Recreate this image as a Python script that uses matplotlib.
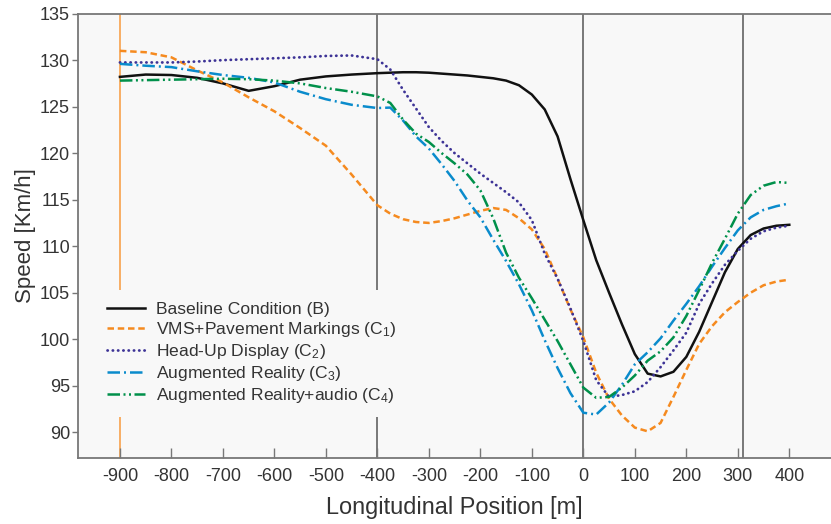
import matplotlib
matplotlib.use("Agg")
import matplotlib.pyplot as plt

plt.rcParams['font.family'] = ['Liberation Sans', 'DejaVu Sans']
plt.rcParams['mathtext.fontset'] = 'custom'
plt.rcParams['mathtext.rm'] = 'Liberation Sans'
plt.rcParams['mathtext.it'] = 'Liberation Sans'
plt.rcParams['axes.unicode_minus'] = False

position = [-900, -850, -800, -750, -700, -650, -600, -550, -500, -450,
            -400, -375, -350, -325, -300, -275, -250, -225, -200, -175,
            -150, -125, -100, -75, -50, -25, 0, 25, 50, 75,
            100, 125, 150, 175, 200, 225, 250, 275, 300, 325,
            350, 375, 400]

baseline = [128.2, 128.45, 128.4, 128.1, 127.5, 126.7, 127.2, 127.9, 128.25, 128.45,
            128.6, 128.65, 128.7, 128.7, 128.65, 128.55, 128.45, 128.35, 128.2, 128.05,
            127.8, 127.3, 126.3, 124.7, 121.8, 117.2, 112.8, 108.5, 105.0, 101.6,
            98.4, 96.3, 96.0, 96.5, 98.1, 100.8, 104.0, 107.2, 109.7, 111.2,
            111.9, 112.2, 112.3]

vms = [131.0, 130.85, 130.3, 128.9, 127.6, 126.0, 124.5, 122.7, 120.8, 117.7,
       114.4, 113.5, 112.9, 112.6, 112.5, 112.7, 113.0, 113.4, 113.8, 114.1,
       113.9, 113.0, 111.8, 109.7, 106.5, 103.2, 100.2, 96.4, 93.6, 91.8,
       90.5, 90.1, 91.0, 93.8, 96.7, 99.5, 101.4, 102.9, 104.0, 105.0,
       105.8, 106.2, 106.4]

hud = [129.75, 129.75, 129.75, 129.85, 130.0, 130.1, 130.2, 130.3, 130.45, 130.5,
       130.1, 129.0, 126.8, 124.8, 122.8, 121.3, 120.0, 118.9, 117.8, 116.8,
       115.8, 114.7, 112.8, 109.2, 106.5, 103.3, 99.8, 95.6, 93.8, 94.0,
       94.4, 95.4, 97.0, 98.8, 100.7, 103.8, 106.0, 108.0, 109.5, 110.8,
       111.6, 112.0, 112.2]

ar = [129.6, 129.4, 129.25, 128.8, 128.4, 128.1, 127.6, 126.6, 125.8, 125.2,
      124.85, 124.9, 123.5, 121.8, 120.5, 118.8, 117.0, 114.9, 113.1, 110.7,
      108.4, 105.9, 103.1, 99.9, 96.9, 94.2, 92.1, 91.9, 93.2, 95.1,
      97.3, 98.6, 100.1, 102.0, 103.8, 105.7, 107.8, 109.8, 111.7, 113.1,
      113.9, 114.3, 114.6]

ar_audio = [127.8, 127.85, 127.9, 127.95, 128.0, 127.95, 127.8, 127.5, 127.0, 126.6,
            126.1, 125.4, 123.6, 122.1, 121.2, 120.0, 118.9, 117.7, 116.0, 113.0,
            109.3, 106.6, 104.4, 102.1, 99.8, 97.3, 94.8, 93.7, 93.8, 94.8,
            96.1, 97.7, 98.7, 100.2, 102.5, 105.3, 108.2, 110.8, 113.5, 115.5,
            116.5, 116.9, 116.8]

labels = ['Baseline Condition (B)',
          'VMS+Pavement Markings (C$_1$)',
          'Head-Up Display (C$_2$)',
          'Augmented Reality (C$_3$)',
          'Augmented Reality+audio (C$_4$)']

x_ticks = [-900, -800, -700, -600, -500, -400, -300, -200, -100, 0, 100, 200, 300, 400]
y_ticks = [90, 95, 100, 105, 110, 115, 120, 125, 130, 135]
section_lines = [-400, 0, 310]
start_line = -900

fig = plt.figure(figsize=(8.31, 5.24), dpi=100)
ax = fig.add_axes([0.0935, 0.1254, 0.9065, 0.8486])
ax.set_facecolor('#f8f8f8')

ax.axvline(start_line, color='#f7a859', lw=1.3, zorder=1)
for xv in section_lines:
    ax.axvline(xv, color='#555555', lw=1.1, zorder=1)

ax.plot(position, baseline, color='#111111', lw=1.8, label=labels[0], zorder=3)
ax.plot(position, vms, color='#f58a1f', lw=1.8, linestyle=(0, (2.6, 1.5)), label=labels[1], zorder=3)
ax.plot(position, hud, color='#3d3396', lw=2.0, linestyle=(0, (0.1, 1.8)),
        dash_capstyle='round', label=labels[2], zorder=3)
ax.plot(position, ar, color='#0a8bcc', lw=1.8, linestyle=(0, (5, 1.6, 0.8, 1.6)), label=labels[3], zorder=3)
ax.plot(position, ar_audio, color='#00904a', lw=1.8, linestyle=(0, (5, 1.4, 0.8, 1.4, 0.8, 1.4)),
        label=labels[4], zorder=3)

ax.set_xlim(-982, 481)
ax.set_ylim(87.2, 135)
ax.set_xticks(x_ticks)
ax.set_xticklabels([str(v) for v in x_ticks])
ax.set_yticks(y_ticks)
ax.set_yticklabels([str(v) for v in y_ticks])

for side in ['left', 'bottom', 'top']:
    ax.spines[side].set_color('#777777')
    ax.spines[side].set_linewidth(1.3)
ax.spines['right'].set_visible(False)

ax.tick_params(axis='x', direction='in', length=7, width=1, color='#777777',
               labelsize=13, labelcolor='#333333', pad=7)
ax.tick_params(axis='y', direction='out', length=4.5, width=1, color='#777777',
               labelsize=13, labelcolor='#333333', pad=1)

ax.set_xlabel('Longitudinal Position [m]', fontsize=16.9, color='#333333', labelpad=8)
ax.set_ylabel('Speed [Km/h]', fontsize=16, color='#333333', labelpad=3)

leg = ax.legend(loc='upper left', bbox_to_anchor=(0.011, 0.3986), fontsize=12.6,
                frameon=True, facecolor='#f8f8f8', edgecolor='none', framealpha=1,
                handlelength=2.2, handletextpad=0.6, labelspacing=0.17,
                borderpad=0.7, fancybox=False)
for t in leg.get_texts():
    t.set_color('#333333')
leg.set_zorder(5)

fig.savefig('out.png', dpi=100, facecolor='white')
